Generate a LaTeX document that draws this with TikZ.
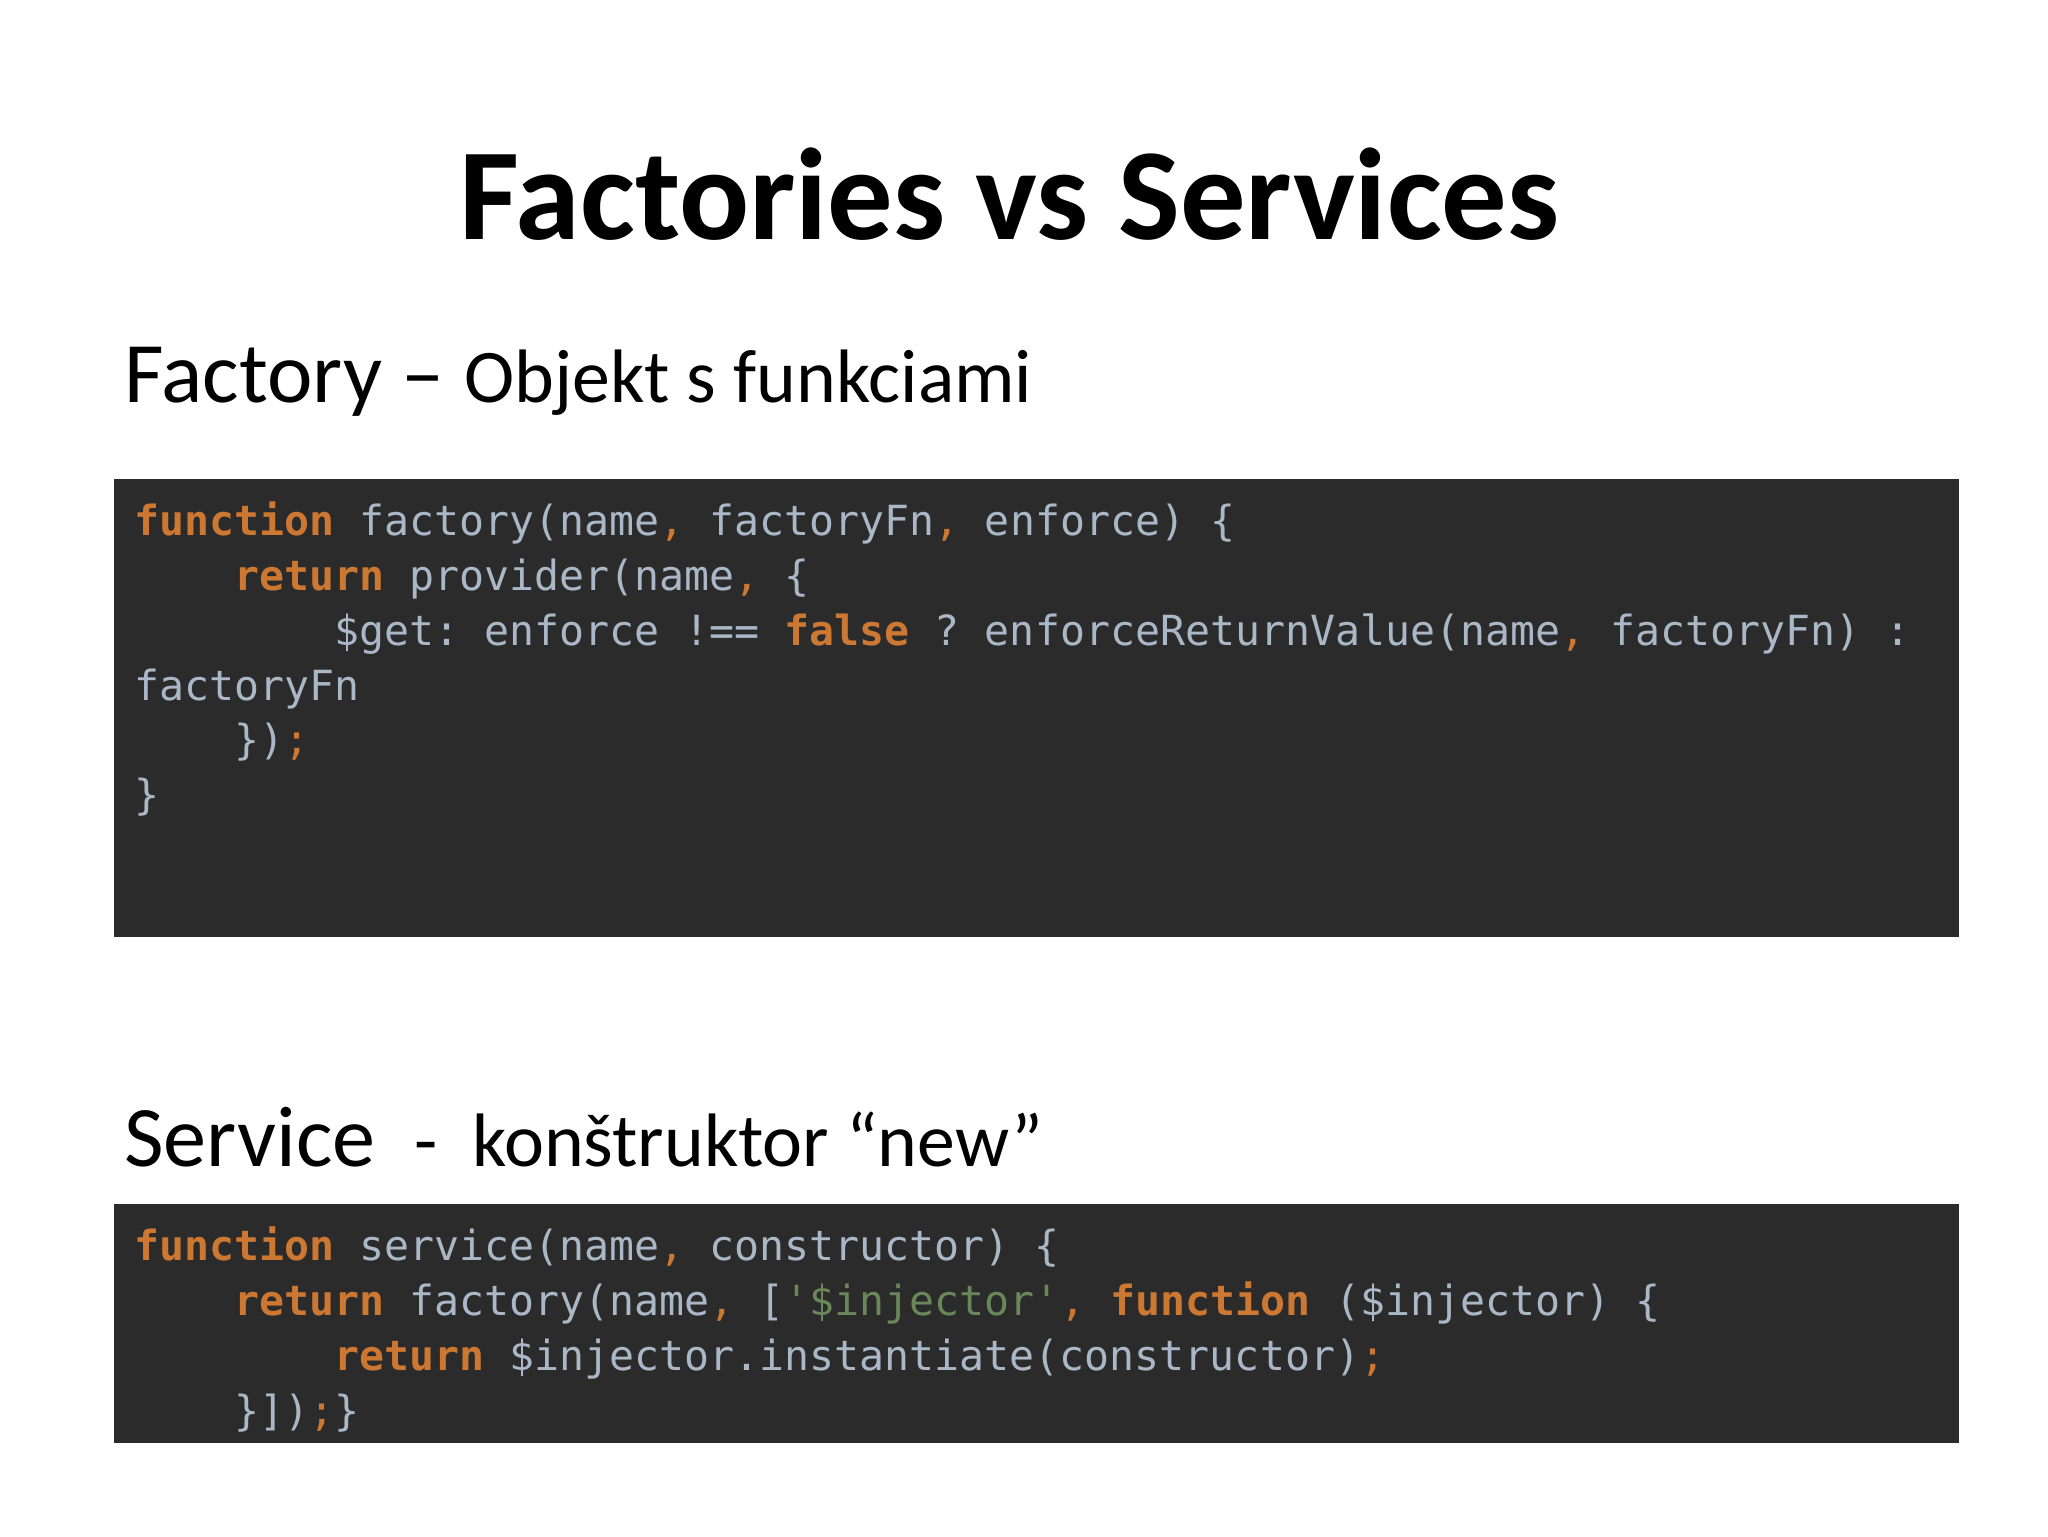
\documentclass[tikz,border=0pt]{standalone}
\usepackage{fontspec}
\setmainfont{Carlito}
\setmonofont{DejaVu Sans Mono}
\definecolor{codebg}{HTML}{2B2B2B}
\definecolor{kw}{HTML}{CC7832}
\definecolor{tx}{HTML}{A9B7C6}
\definecolor{st}{HTML}{6A8759}
\newcommand{\Kw}[1]{\textcolor{kw}{\textbf{#1}}}
\newcommand{\Pu}[1]{\textcolor{kw}{#1}}
\newcommand{\Gs}[1]{\textcolor{st}{#1}}
\begin{document}
\begin{tikzpicture}[x=1pt,y=-1pt,
  code/.style={anchor=base west,inner sep=0,text=tx,font=\fontsize{31.8}{38}\ttfamily},
  box/.style={fill=codebg,draw=none}]
\useasboundingbox (0,0) rectangle (1568,1176);
\node[anchor=base,inner sep=0,font=\fontsize{100}{110}\bfseries] (title) at (773,183) {Factories vs Services};
\node[anchor=base west,inner sep=0] (h1) at (95,308) {\fontsize{66}{70}\selectfont Factory -- \fontsize{58}{62}\selectfont Objekt s funkciami};
\fill[codebg] (87,367) rectangle (1500,717);
\node[code] (a1) at (103,410) {\Kw{function} factory(name\Pu{,} factoryFn\Pu{,} enforce) \{};
\node[code] (a2) at (103,452) {\ \ \ \ \Kw{return} provider(name\Pu{,} \{};
\node[code] (a3) at (103,494) {\ \ \ \ \ \ \ \ \$get: enforce !== \Kw{false} ? enforceReturnValue(name\Pu{,} factoryFn) :};
\node[code] (a4) at (103,536) {factoryFn};
\node[code] (a5) at (103,578) {\ \ \ \ \})\Pu{;}};
\node[code] (a6) at (103,620) {\}};
\node[anchor=base west,inner sep=0] (h2) at (95,893) {\fontsize{66}{70}\selectfont Service\ \ \fontsize{58}{62}\selectfont -\ \ konštruktor “new”};
\fill[codebg] (87,922) rectangle (1500,1105);
\node[code] (b1) at (103,965) {\Kw{function} service(name\Pu{,} constructor) \{};
\node[code] (b2) at (103,1007) {\ \ \ \ \Kw{return} factory(name\Pu{,} [\Gs{'\$injector'}\Pu{,} \Kw{function} (\$injector) \{};
\node[code] (b3) at (103,1049) {\ \ \ \ \ \ \ \ \Kw{return} \$injector.instantiate(constructor)\Pu{;}};
\node[code] (b4) at (103,1091) {\ \ \ \ \}])\Pu{;}\}};
\end{tikzpicture}
\end{document}
